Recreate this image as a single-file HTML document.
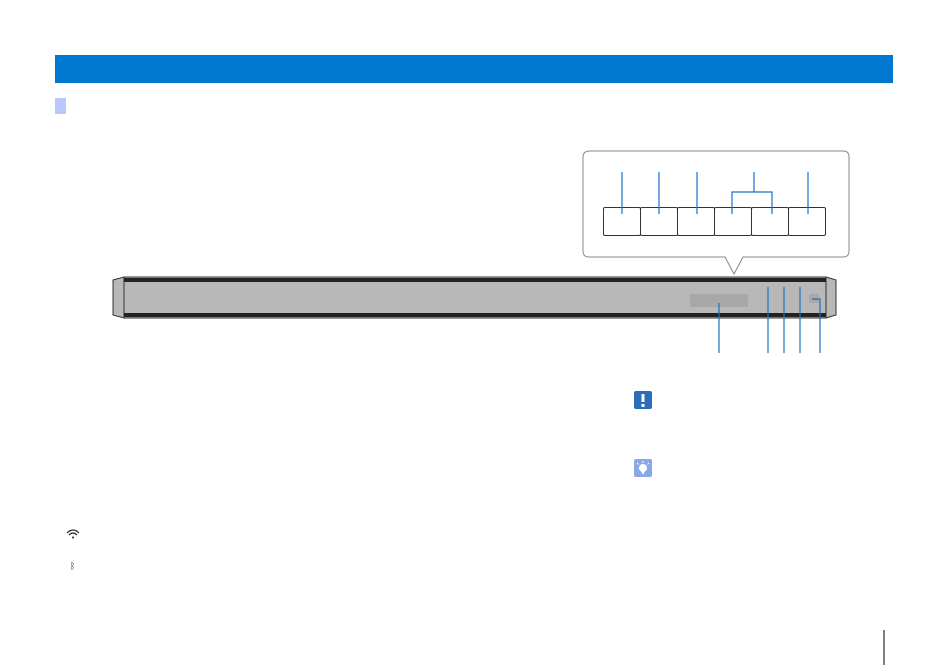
<!DOCTYPE html>
<html><head><style>html,body{margin:0;padding:0;background:#fff;width:950px;height:672px;overflow:hidden}</style></head>
<body>
<svg width="950" height="672" viewBox="0 0 950 672" xmlns="http://www.w3.org/2000/svg">
<rect x="55" y="55" width="838" height="28" fill="#0078d0"/>
<rect x="55" y="98" width="11" height="16" fill="#b8c8ff"/>
<!-- callout -->
<path d="M590,151 H843 Q849,151 849,157 V251 Q849,257 843,257 H743 L734,274 L725,257 H589 Q583,257 583,251 V157 Q583,151 590,151 Z" fill="#fff" stroke="#888" stroke-width="1"/>
<g fill="#fff" stroke="#333" stroke-width="1">
<rect x="603.5" y="207.5" width="37" height="28" rx="1.5"/>
<rect x="640.5" y="207.5" width="37" height="28" rx="1.5"/>
<rect x="677.5" y="207.5" width="37" height="28" rx="1.5"/>
<rect x="714.5" y="207.5" width="37" height="28" rx="1.5"/>
<rect x="751.5" y="207.5" width="37" height="28" rx="1.5"/>
<rect x="788.5" y="207.5" width="37" height="28" rx="1.5"/>
</g>
<g stroke="#1a6fc4" stroke-width="1.2" fill="none">
<line x1="622" y1="172" x2="622" y2="214"/>
<line x1="659" y1="172" x2="659" y2="214"/>
<line x1="697" y1="172" x2="697" y2="214"/>
<line x1="754" y1="172" x2="754" y2="192"/>
<polyline points="732,214 732,192 772,192 772,214"/>
<line x1="808" y1="172" x2="808" y2="214"/>
</g>
<!-- bar -->
<polygon points="113,280 124,277 124,318 113,315" fill="#b8b8b8" stroke="#333" stroke-width="1"/>
<polygon points="826,277 836,280 836,315 826,318" fill="#b8b8b8" stroke="#333" stroke-width="1"/>
<rect x="124" y="277" width="702" height="41" fill="#b8b8b8" stroke="#333" stroke-width="1"/>
<rect x="124" y="278" width="702" height="4" fill="#222"/>
<rect x="124" y="313" width="702" height="4" fill="#222"/>
<rect x="690" y="294" width="58" height="13" fill="#a8a8a8"/>
<rect x="809" y="294" width="10" height="9" fill="#a8a8a8"/>
<g stroke="#1a6fc4" stroke-width="1.2" fill="none">
<line x1="719" y1="303" x2="719" y2="353"/>
<line x1="768" y1="287" x2="768" y2="353"/>
<line x1="784" y1="287" x2="784" y2="353"/>
<line x1="800" y1="287" x2="800" y2="353"/>
<polyline points="812,299 820,299 820,353"/>
</g>
<!-- icons -->
<rect x="634" y="391" width="18" height="18" rx="2" fill="#2a6ebb"/>
<rect x="641.5" y="394" width="3" height="8" fill="#fff"/>
<rect x="641.5" y="404" width="3" height="3" fill="#fff"/>
<rect x="634" y="459" width="18" height="18" rx="2" fill="#8aa8e8"/>
<circle cx="643" cy="468" r="4" fill="#fff"/>
<polygon points="640,469 646,469 643,475" fill="#fff"/>
<g stroke="#fff" stroke-width="1"><line x1="643" y1="461" x2="643" y2="463"/><line x1="637" y1="463" x2="638.5" y2="464.5"/><line x1="649" y1="463" x2="647.5" y2="464.5"/></g>
<!-- wifi -->
<g fill="none" stroke="#222" stroke-width="1.2">
<path d="M67,533 Q73,527 79,533"/><path d="M69,535 Q73,531 77,535"/>
</g>
<circle cx="73" cy="537.5" r="1" fill="#222"/>
<text x="70" y="569" font-family="Liberation Sans, sans-serif" font-size="9" fill="#222">ᛒ</text>
<line x1="884" y1="630" x2="884" y2="665" stroke="#000" stroke-width="1"/>
</svg>
</body></html>
